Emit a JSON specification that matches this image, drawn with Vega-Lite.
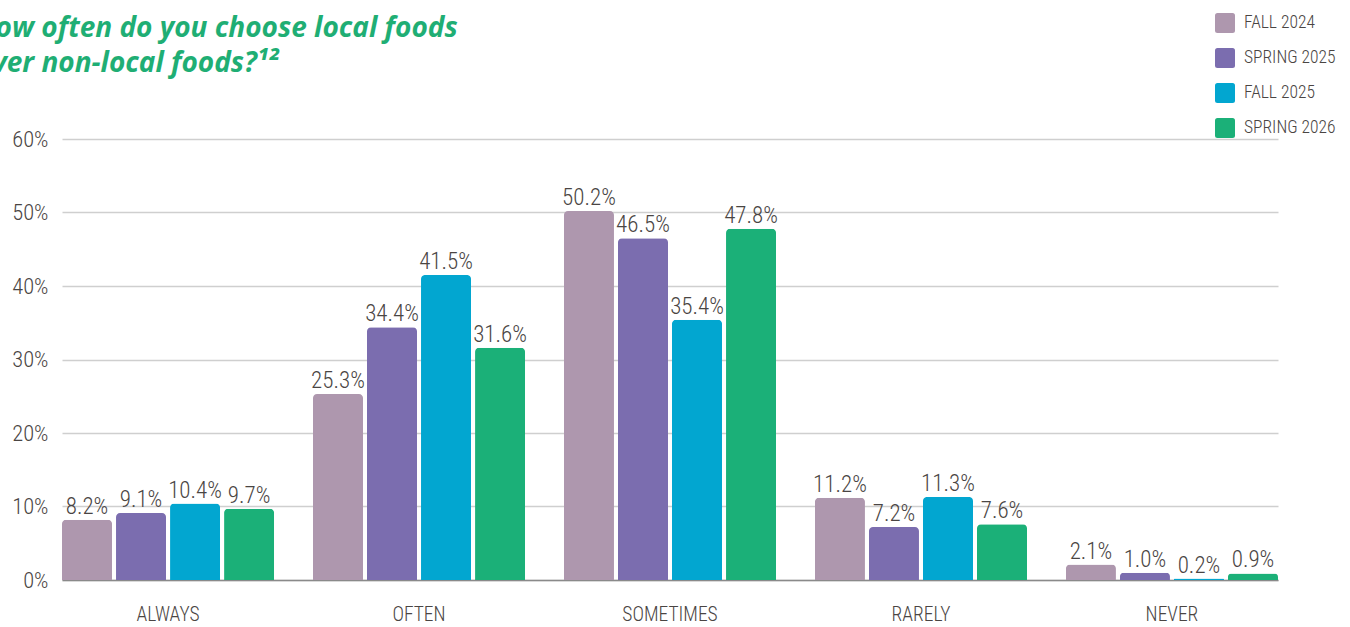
{
  "$schema": "https://vega.github.io/schema/vega-lite/v6.json",
  "autosize": {"type": "none"},
  "width": 1216,
  "height": 441,
  "padding": {"left": 62, "top": 139, "right": 72, "bottom": 47},
  "background": "white",
  "title": {
    "text": ["How often do you choose local foods", "over non-local foods?¹²"],
    "anchor": "start",
    "frame": "group",
    "orient": "top",
    "baseline": "alphabetic",
    "offset": 0,
    "dx": -86,
    "dy": 87,
    "font": "Open Sans",
    "fontSize": 28,
    "fontWeight": "bold",
    "fontStyle": "italic",
    "color": "#1fae74",
    "lineHeight": 35
  },
  "data": {
    "values": [
      {"category": "ALWAYS", "term": "FALL 2024", "value": 0.082},
      {"category": "ALWAYS", "term": "SPRING 2025", "value": 0.091},
      {"category": "ALWAYS", "term": "FALL 2025", "value": 0.104},
      {"category": "ALWAYS", "term": "SPRING 2026", "value": 0.097},
      {"category": "OFTEN", "term": "FALL 2024", "value": 0.253},
      {"category": "OFTEN", "term": "SPRING 2025", "value": 0.344},
      {"category": "OFTEN", "term": "FALL 2025", "value": 0.415},
      {"category": "OFTEN", "term": "SPRING 2026", "value": 0.316},
      {"category": "SOMETIMES", "term": "FALL 2024", "value": 0.502},
      {"category": "SOMETIMES", "term": "SPRING 2025", "value": 0.465},
      {"category": "SOMETIMES", "term": "FALL 2025", "value": 0.354},
      {"category": "SOMETIMES", "term": "SPRING 2026", "value": 0.478},
      {"category": "RARELY", "term": "FALL 2024", "value": 0.112},
      {"category": "RARELY", "term": "SPRING 2025", "value": 0.072},
      {"category": "RARELY", "term": "FALL 2025", "value": 0.113},
      {"category": "RARELY", "term": "SPRING 2026", "value": 0.076},
      {"category": "NEVER", "term": "FALL 2024", "value": 0.021},
      {"category": "NEVER", "term": "SPRING 2025", "value": 0.010},
      {"category": "NEVER", "term": "FALL 2025", "value": 0.002},
      {"category": "NEVER", "term": "SPRING 2026", "value": 0.009}
    ]
  },
  "encoding": {
    "x": {
      "field": "category",
      "type": "nominal",
      "sort": ["ALWAYS", "OFTEN", "SOMETIMES", "RARELY", "NEVER"],
      "scale": {"paddingInner": 0.155, "paddingOuter": 0},
      "axis": {
        "title": null,
        "labelAngle": 0,
        "labelPadding": 25,
        "ticks": false,
        "domain": true,
        "domainColor": "#8a8a8a",
        "domainWidth": 1.5,
        "labelFont": "Roboto Condensed, Liberation Sans Narrow, DejaVu Sans Condensed, sans-serif",
        "labelFontSize": 19.5,
        "labelFontWeight": 300,
        "labelColor": "#4a4543"
      }
    },
    "xOffset": {
      "field": "term",
      "type": "nominal",
      "sort": ["FALL 2024", "SPRING 2025", "FALL 2025", "SPRING 2026"],
      "scale": {"paddingInner": 0.074, "paddingOuter": 0}
    },
    "y": {
      "field": "value",
      "type": "quantitative",
      "scale": {"domain": [0, 0.6]},
      "axis": {
        "title": null,
        "format": ".0%",
        "values": [0, 0.1, 0.2, 0.3, 0.4, 0.5, 0.6],
        "labelOverlap": false,
        "domain": false,
        "ticks": false,
        "labelPadding": 14,
        "grid": true,
        "gridColor": "#cfcfcf",
        "gridWidth": 1.5,
        "labelFont": "Roboto Condensed, Liberation Sans Narrow, DejaVu Sans Condensed, sans-serif",
        "labelFontSize": 22.5,
        "labelFontWeight": 300,
        "labelColor": "#4a4543"
      }
    }
  },
  "layer": [
    {
      "mark": {"type": "bar", "cornerRadiusTopLeft": 4, "cornerRadiusTopRight": 4},
      "encoding": {
        "color": {
          "field": "term",
          "type": "nominal",
          "sort": ["FALL 2024", "SPRING 2025", "FALL 2025", "SPRING 2026"],
          "scale": {
            "domain": ["FALL 2024", "SPRING 2025", "FALL 2025", "SPRING 2026"],
            "range": ["#ae97ae", "#7b6daf", "#02a6d0", "#1bb078"]
          },
          "legend": {
            "title": null,
            "orient": "none",
            "legendX": 1153,
            "legendY": -126,
            "symbolType": "M-0.75,-1H0.75Q1,-1 1,-0.75V0.75Q1,1 0.75,1H-0.75Q-1,1 -1,0.75V-0.75Q-1,-1 -0.75,-1Z",
            "symbolSize": 400,
            "symbolStrokeWidth": 0,
            "symbolOpacity": 1,
            "rowPadding": 15,
            "labelOffset": 9,
            "labelFont": "Roboto Condensed, Liberation Sans Narrow, DejaVu Sans Condensed, sans-serif",
            "labelFontSize": 17.5,
            "labelFontWeight": 300,
            "labelColor": "#4a4543"
          }
        }
      }
    },
    {
      "mark": {
        "type": "text",
        "baseline": "alphabetic",
        "dy": -6,
        "font": "Roboto Condensed, Liberation Sans Narrow, DejaVu Sans Condensed, sans-serif",
        "fontSize": 23,
        "fontWeight": 300,
        "color": "#4a4543"
      },
      "encoding": {
        "text": {"field": "value", "type": "quantitative", "format": ".1%"}
      }
    }
  ],
  "config": {
    "view": {"stroke": null}
  }
}
